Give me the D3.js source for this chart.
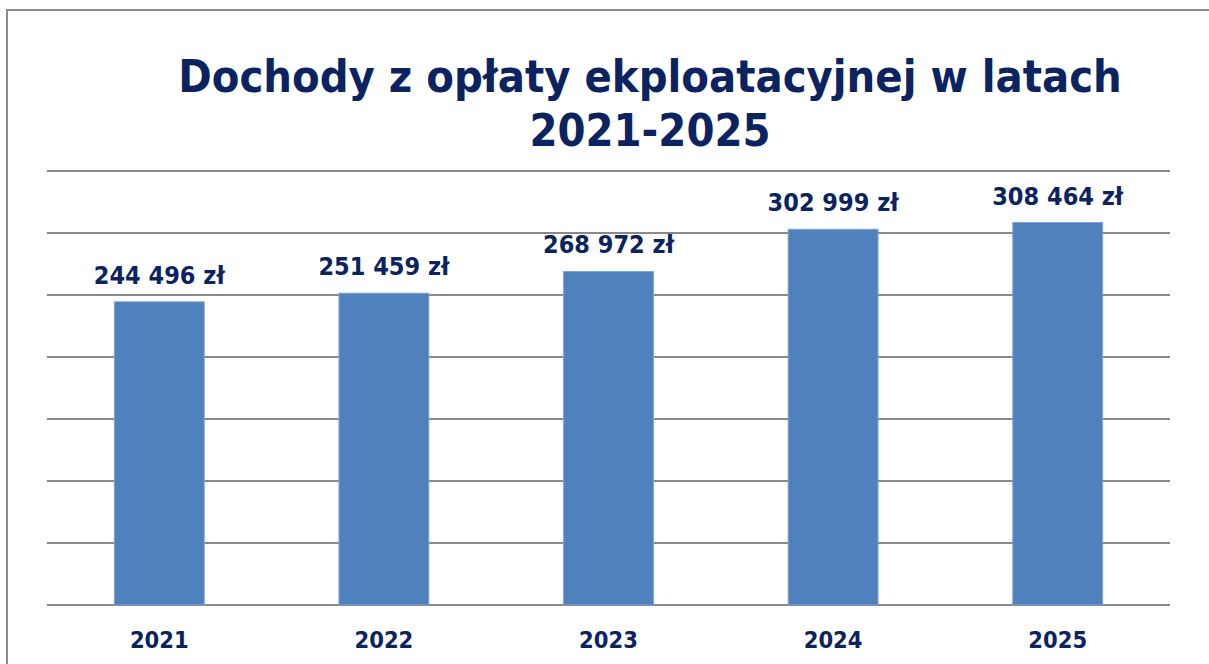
<!DOCTYPE html>
<html><head><meta charset="utf-8">
<script src="https://cdn.jsdelivr.net/npm/d3@7"></script>
<style>html,body{margin:0;padding:0;background:#fff;overflow:hidden}</style>
</head><body>
<svg id="c" width="1209" height="664"></svg>
<script>
const years = ["2021","2022","2023","2024","2025"];
const values = [244496, 251459, 268972, 302999, 308464];
const labels = ["244 496 zł","251 459 zł","268 972 zł","302 999 zł","308 464 zł"];
const gridTicks = [0,50000,100000,150000,200000,250000,300000,350000];
const titleLines = ["Dochody z opłaty ekploatacyjnej w latach","2021-2025"];

const svg = d3.select("#c");
const navy = "#0b2360";
const font = "'DejaVu Sans Condensed', 'DejaVu Sans', Verdana, sans-serif";

// frame
svg.append("rect").attr("x",7).attr("y",10).attr("width",1260).attr("height",700)
  .attr("fill","none").attr("stroke","#8a8a8a").attr("stroke-width",2);

const x = d3.scaleBand().domain(years).range([47,1170]).padding(0);
const y = d3.scaleLinear().domain([0,350000]).range([605,171]);

svg.append("g").selectAll("line").data(gridTicks).join("line")
  .attr("x1",47).attr("x2",1170)
  .attr("y1",d=>y(d)).attr("y2",d=>y(d))
  .attr("stroke","#898989").attr("stroke-width",2);

const bw = x.bandwidth()*0.4;
svg.append("g").selectAll("rect").data(values).join("rect")
  .attr("x",(d,i)=>x(years[i])+x.bandwidth()/2-bw/2)
  .attr("y",d=>y(d))
  .attr("width",bw)
  .attr("height",d=>y(0)-y(d))
  .attr("fill","#4f81bd").attr("stroke","#7ea3d3").attr("stroke-width",1);

svg.append("g").selectAll("text").data(labels).join("text")
  .attr("x",(d,i)=>x(years[i])+x.bandwidth()/2)
  .attr("y",(d,i)=>y(values[i])-18)
  .attr("text-anchor","middle")
  .attr("font-family",font).attr("font-weight","bold").attr("font-size",25)
  .attr("fill",navy).text(d=>d);

svg.append("g").selectAll("text").data(years).join("text")
  .attr("x",d=>x(d)+x.bandwidth()/2)
  .attr("y",648)
  .attr("text-anchor","middle")
  .attr("font-family",font).attr("font-weight","bold").attr("font-size",23.5)
  .attr("fill",navy).text(d=>d);

svg.append("g").selectAll("text").data(titleLines).join("text")
  .attr("x",650).attr("y",(d,i)=>92+i*54)
  .attr("text-anchor","middle")
  .attr("font-family",font).attr("font-weight","bold").attr("font-size",44.8)
  .attr("fill",navy).text(d=>d);
</script>
</body></html>
